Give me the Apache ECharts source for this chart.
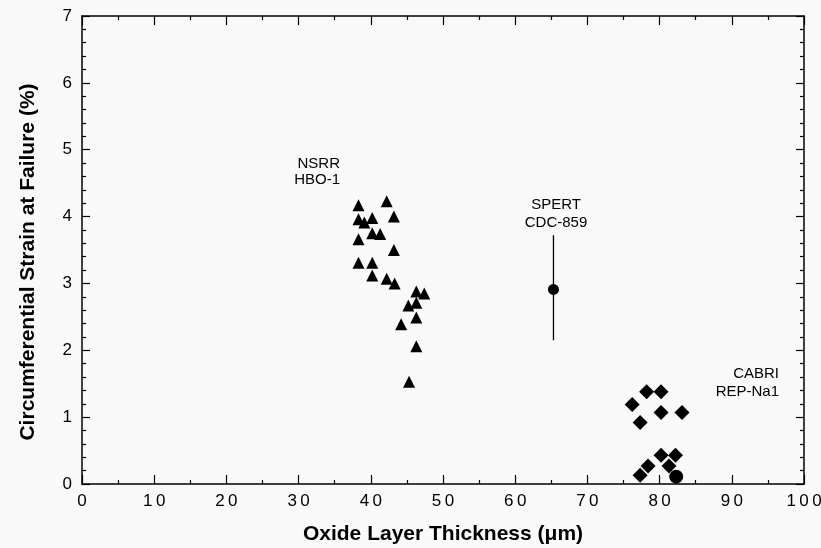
<!DOCTYPE html>
<html>
<head>
<meta charset="utf-8">
<script src="https://cdn.jsdelivr.net/npm/echarts@6/dist/echarts.min.js"></script>
<style>
  html,body{margin:0;padding:0;background:#f9f9f9;}
  #chart{width:821px;height:548px;}
</style>
</head>
<body>
<div id="chart"></div>
<script>
// NSRR HBO-1 (triangles)
const nsrrX = [38.3, 42.2, 38.3, 39.1, 40.2, 43.2, 38.3, 40.2, 41.3, 43.2, 38.3, 40.2, 40.2, 42.2, 43.3, 46.3, 47.4, 46.3, 45.2, 46.3, 44.2, 46.3, 45.3];
const nsrrY = [4.17, 4.23, 3.96, 3.91, 3.98, 4.00, 3.66, 3.75, 3.74, 3.50, 3.31, 3.31, 3.12, 3.07, 3.00, 2.88, 2.85, 2.71, 2.67, 2.49, 2.39, 2.06, 1.53];
// CABRI REP-Na1 (diamonds)
const cabriX = [76.2, 78.2, 80.2, 80.2, 83.1, 77.3, 80.2, 82.2, 78.4, 81.3, 77.3];
const cabriY = [1.19, 1.38, 1.38, 1.07, 1.07, 0.92, 0.43, 0.43, 0.27, 0.27, 0.13];
// single large dot near the x axis
const cabriDotX = [82.3];
const cabriDotY = [0.11];
// SPERT CDC-859 with its range
const spertX = [65.3];
const spertY = [2.91];
const spertRange = [2.15, 3.72];

const xTicks = [0, 10, 20, 30, 40, 50, 60, 70, 80, 90, 100];
const yTicks = [0, 1, 2, 3, 4, 5, 6, 7];

const pairs = (xs, ys) => xs.map((x, i) => [x, ys[i]]);

const font = '"Liberation Sans", Arial, Helvetica, sans-serif';
const ink = '#000';

const chart = echarts.init(document.getElementById('chart'));

const baseX = {
  type: 'value', min: xTicks[0], max: xTicks[xTicks.length - 1], interval: 10,
  axisLine: {show: true, onZero: false, lineStyle: {color: ink, width: 1.5}},
  axisTick: {show: true, inside: true, length: 9, lineStyle: {color: ink, width: 1.2}},
  minorTick: {show: true, splitNumber: 2, length: 4, lineStyle: {color: ink, width: 1.2}},
  splitLine: {show: false}
};
const baseY = {
  type: 'value', min: yTicks[0], max: yTicks[yTicks.length - 1], interval: 1,
  axisLine: {show: true, onZero: false, lineStyle: {color: ink, width: 1.5}},
  axisTick: {show: true, inside: true, length: 8, lineStyle: {color: ink, width: 1.2}},
  minorTick: {show: true, splitNumber: 5, length: 4, lineStyle: {color: ink, width: 1.2}},
  splitLine: {show: false}
};

const dot = {color: ink, opacity: 1};

const option = {
  backgroundColor: '#f9f9f9',
  animation: false,
  grid: {left: 82, right: 17, top: 16, bottom: 64, containLabel: false, outerBoundsMode: 'none'},
  xAxis: [
    Object.assign({}, baseX, {
      position: 'bottom',
      name: 'Oxide Layer Thickness (μm)',
      nameLocation: 'middle', nameGap: 40,
      nameTextStyle: {fontFamily: font, fontWeight: 'bold', fontSize: 21, color: ink},
      axisLabel: {fontFamily: font, fontSize: 17, color: ink, margin: 9,
        formatter: v => String(v).split('').join('\u2009')}
    }),
    Object.assign({}, baseX, {position: 'top', axisLabel: {show: false}})
  ],
  yAxis: [
    Object.assign({}, baseY, {
      position: 'left',
      name: 'Circumferential Strain at Failure (%)',
      nameLocation: 'middle', nameGap: 43,
      nameTextStyle: {fontFamily: font, fontWeight: 'bold', fontSize: 21, color: ink, padding: [0, 24, 0, 0]},
      axisLabel: {fontFamily: font, fontSize: 17, color: ink, margin: 10}
    }),
    Object.assign({}, baseY, {position: 'right', axisLabel: {show: false}})
  ],
  series: [
    {
      name: 'NSRR HBO-1', type: 'scatter', symbol: 'triangle', symbolSize: 12,
      itemStyle: dot, data: pairs(nsrrX, nsrrY)
    },
    {
      name: 'CABRI REP-Na1', type: 'scatter', symbol: 'diamond', symbolSize: 15,
      itemStyle: dot, data: pairs(cabriX, cabriY)
    },
    {
      name: 'CABRI dot', type: 'scatter', symbol: 'circle', symbolSize: 14,
      itemStyle: dot, data: pairs(cabriDotX, cabriDotY)
    },
    {
      name: 'SPERT range', type: 'line', showSymbol: false, symbol: 'none',
      lineStyle: {color: ink, width: 1.3},
      data: spertRange.map(v => [spertX[0], v])
    },
    {
      name: 'SPERT CDC-859', type: 'scatter', symbol: 'circle', symbolSize: 11,
      itemStyle: dot, data: pairs(spertX, spertY)
    }
  ],
  graphic: [
    {type: 'text', x: 340, y: 156, style: {text: 'NSRR\nHBO-1', align: 'right', font: '15px ' + font, fill: ink, lineHeight: 16}},
    {type: 'text', x: 556, y: 196, style: {text: 'SPERT\nCDC-859', align: 'center', font: '15px ' + font, fill: ink, lineHeight: 18}},
    {type: 'text', x: 779, y: 365, style: {text: 'CABRI\nREP-Na1', align: 'right', font: '15px ' + font, fill: ink, lineHeight: 18}}
  ]
};

chart.setOption(option);
</script>
</body>
</html>
